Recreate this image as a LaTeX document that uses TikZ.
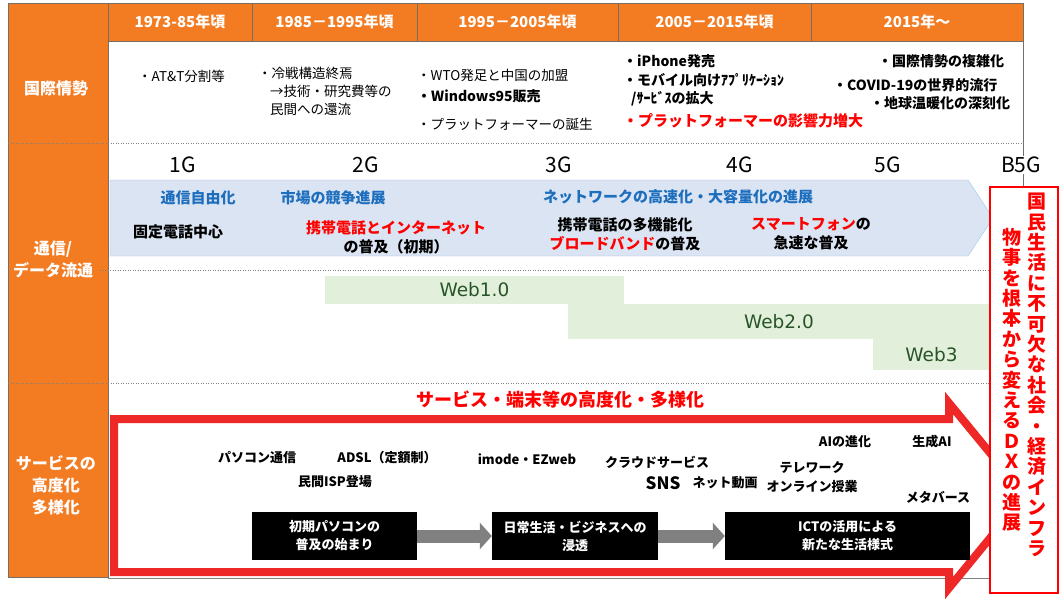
\documentclass[tikz,border=0pt]{standalone}
\usepackage{fontspec}
\setmainfont{Noto Sans CJK JP}
\newfontfamily\webfont{DejaVu Sans}
\usetikzlibrary{arrows.meta}

\definecolor{hdrorange}{RGB}{243,124,34}
\definecolor{framegray}{RGB}{120,110,100}
\definecolor{bandblue}{RGB}{219,228,242}
\definecolor{bandedge}{RGB}{157,195,230}
\definecolor{textblue}{RGB}{30,110,190}
\definecolor{webgreen}{RGB}{226,239,218}
\definecolor{webtext}{RGB}{40,85,40}
\definecolor{arrowred}{RGB}{238,40,38}
\definecolor{strongred}{RGB}{255,0,0}
\definecolor{flowgray}{RGB}{128,128,128}

\begin{document}
\begin{tikzpicture}[x = 1pt, y = -1pt, > = latex,
	hdr/.style = {text = white, font = \fontsize{15}{18}\selectfont\bfseries},
	rowlbl/.style = {text = white, align = center, font = \fontsize{16}{22}\selectfont\bfseries},
	news/.style = {anchor = west, inner sep = 0pt, font = \fontsize{13.5}{16}\selectfont},
	newsb/.style = {news, font = \fontsize{14}{16}\selectfont\bfseries},
	gen/.style = {font = \fontsize{21}{24}\selectfont},
	bandtxt/.style = {align = center, font = \fontsize{15}{19}\selectfont\bfseries},
	web/.style = {fill = webgreen, text = webtext, inner sep = 0pt, font = \webfont\fontsize{18.5}{20}\selectfont},
	svc/.style = {align = center, font = \fontsize{13}{19}\selectfont\bfseries},
	stage/.style = {fill = black, text = white, align = center, minimum height = 48pt, font = \fontsize{13}{18}\selectfont\bfseries},
	flow/.style = {draw = flowgray, line width = 13pt, -{Triangle[length = 12pt, width = 26pt]}},
	dotsep/.style = {draw = flowgray, dash pattern = on 1pt off 1.5pt, line width = 0.8pt},
	tate/.style = {text = strongred, align = center, inner sep = 0pt, font = \fontsize{19}{20.4}\selectfont\bfseries}]

	% Canvas

	\useasboundingbox (0, 0) rectangle (1062, 602);

	% Draw frame and period header

	\fill [hdrorange] (8, 3) rectangle (108, 577);
	\draw [framegray] (8, 3) rectangle (108, 577);
	\fill [hdrorange] (108, 3) rectangle (1023, 41);
	\foreach \xa/\xb/\n/\yr in {108/252/1/1973-85年頃, 252/417/2/1985－1995年頃, 417/618/3/1995－2005年頃, 618/811/4/2005－2015年頃, 811/1023/5/2015年～}
	{
		\draw [framegray] (\xa, 3) rectangle (\xb, 41);
		\node [hdr] (yr\n) at ({(\xa + \xb) / 2}, 22) {\yr};
	}
	\draw [framegray] (1023, 41) -- (1023, 187);
	\draw [flowgray] (108, 578) -- (990, 578);

	% Draw row separators

	\foreach \yy/\xa/\xb in {143/8/1023, 270/100/990, 383/8/990}
		\draw [dotsep] (\xa, \yy) -- (\xb, \yy);

	% Draw row labels

	\node [rowlbl] (intl) at (56, 88) {国際情勢};
	\node [rowlbl] (comm) at (53, 259) {通信/\\データ流通};
	\node [rowlbl] (serv) at (56, 485) {サービスの\\高度化\\多様化};

	% Draw international situation

	\node [news] (att) at (138, 76) {・AT\&T分割等};
	\node [news] (cold) at (258, 73) {・冷戦構造終焉};
	\node [news] (coldb) at (270, 91) {→技術・研究費等の};
	\node [news] (coldc) at (270, 109) {民間への還流};
	\node [news] (wto) at (417, 75) {・WTO発足と中国の加盟};
	\node [newsb] (win) at (417, 96) {・Windows95販売};
	\node [news] (pfa) at (417, 124) {・プラットフォーマーの誕生};
	\node [newsb] (iph) at (623, 61) {・iPhone発売};
	\node [newsb] (app) at (623, 80) {・モバイル向けｱﾌﾟﾘｹｰｼｮﾝ};
	\node [newsb] (appb) at (631, 99) {/ｻｰﾋﾞｽの拡大};
	\node [newsb, text = strongred, font = \fontsize{15}{18}\selectfont\bfseries] (pfb) at (623, 121) {・プラットフォーマーの影響力増大};
	\node [newsb] (cplx) at (878, 61) {・国際情勢の複雑化};
	\node [newsb] (covid) at (833, 85) {・COVID-19の世界的流行};
	\node [newsb] (warm) at (870, 103) {・地球温暖化の深刻化};

	% Draw network generations

	\draw [fill = bandblue, draw = bandedge] (110, 180) -- (968, 180) -- (993, 218) -- (968, 256) -- (110, 256) -- cycle;
	\foreach \x/\g in {183/1G, 366/2G, 559/3G, 740/4G, 888/5G}
		\node [gen] (gen\g) at (\x, 165) {\g};

	\node [bandtxt, text = textblue] (lib) at (198, 198) {通信自由化};
	\node [bandtxt, text = textblue] (comp) at (333, 198) {市場の競争進展};
	\node [bandtxt, text = textblue] (speed) at (678, 197) {ネットワークの高速化・大容量化の進展};
	\node [bandtxt] (fixed) at (178, 232) {固定電話中心};
	\node [bandtxt] (mob) at (396, 237) {\textcolor{strongred}{携帯電話とインターネット}\\の普及（初期）};
	\node [bandtxt] (multi) at (625, 234) {携帯電話の多機能化\\\textcolor{strongred}{ブロードバンド}の普及};
	\node [bandtxt] (smart) at (811, 234) {\textcolor{strongred}{スマートフォン}の\\急速な普及};

	% Draw web eras

	\node [web, minimum width = 299pt, minimum height = 28pt] (web1) at (474.5, 290) {Web1.0};
	\node [web, minimum width = 422pt, minimum height = 35pt] (web2) at (779, 321.5) {Web2.0};
	\node [web, minimum width = 117pt, minimum height = 31pt] (web3) at (931.5, 354.5) {Web3};

	% Draw service arrow

	\draw [arrowred, line width = 8pt, fill = white] (114, 419) -- (949, 419) -- (949, 403) -- (1025, 495.5) -- (949, 588) -- (949, 572) -- (114, 572) -- cycle;
	\node [text = strongred, font = \fontsize{18}{20}\selectfont\bfseries] (svtitle) at (560, 400) {サービス・端末等の高度化・多様化};

	\node [svc] (pcnet) at (257, 458) {パソコン通信};
	\node [svc] (adsl) at (387, 458) {ADSL（定額制）};
	\node [svc] (isp) at (335, 482) {民間ISP登場};
	\node [svc] (imode) at (527, 459) {imode・EZweb};
	\node [svc] (cloud) at (657, 462) {クラウドサービス};
	\node [svc, font = \fontsize{17}{19}\selectfont\bfseries] (sns) at (663, 483) {SNS};
	\node [svc] (video) at (725, 483) {ネット動画};
	\node [svc] (ai) at (845, 442) {AIの進化};
	\node [svc] (genai) at (932, 442) {生成AI};
	\node [svc] (tele) at (812, 477) {テレワーク\\オンライン授業};
	\node [svc] (meta) at (938, 497) {メタバース};

	\node [stage, minimum width = 165pt] (stage1) at (334.5, 536) {初期パソコンの\\普及の始まり};
	\node [stage, minimum width = 166pt] (stage2) at (575, 536) {日常生活・ビジネスへの\\浸透};
	\node [stage, minimum width = 245pt] (stage3) at (847.5, 536) {ICTの活用による\\新たな生活様式};

	\draw [flow] (stage1) -- (stage2);
	\draw [flow] (stage2) -- (stage3);

	% Draw DX box

	\node [draw = strongred, line width = 1.6pt, fill = white, minimum width = 68pt, minimum height = 406pt] (dxbox) at (1024, 390) {};
	\node [tate] (dxa) at (1037, 375) {国\\民\\生\\活\\に\\不\\可\\欠\\な\\社\\会\\・\\経\\済\\イ\\ン\\フ\\ラ};
	\node [tate] (dxb) at (1012, 380) {物\\事\\を\\根\\本\\か\\ら\\変\\え\\る\\Ｄ\\Ｘ\\の\\進\\展};
	\node [gen, fill = white, inner sep = 1pt] (genB5G) at (1021, 165) {B5G};

\end{tikzpicture}
\end{document}
